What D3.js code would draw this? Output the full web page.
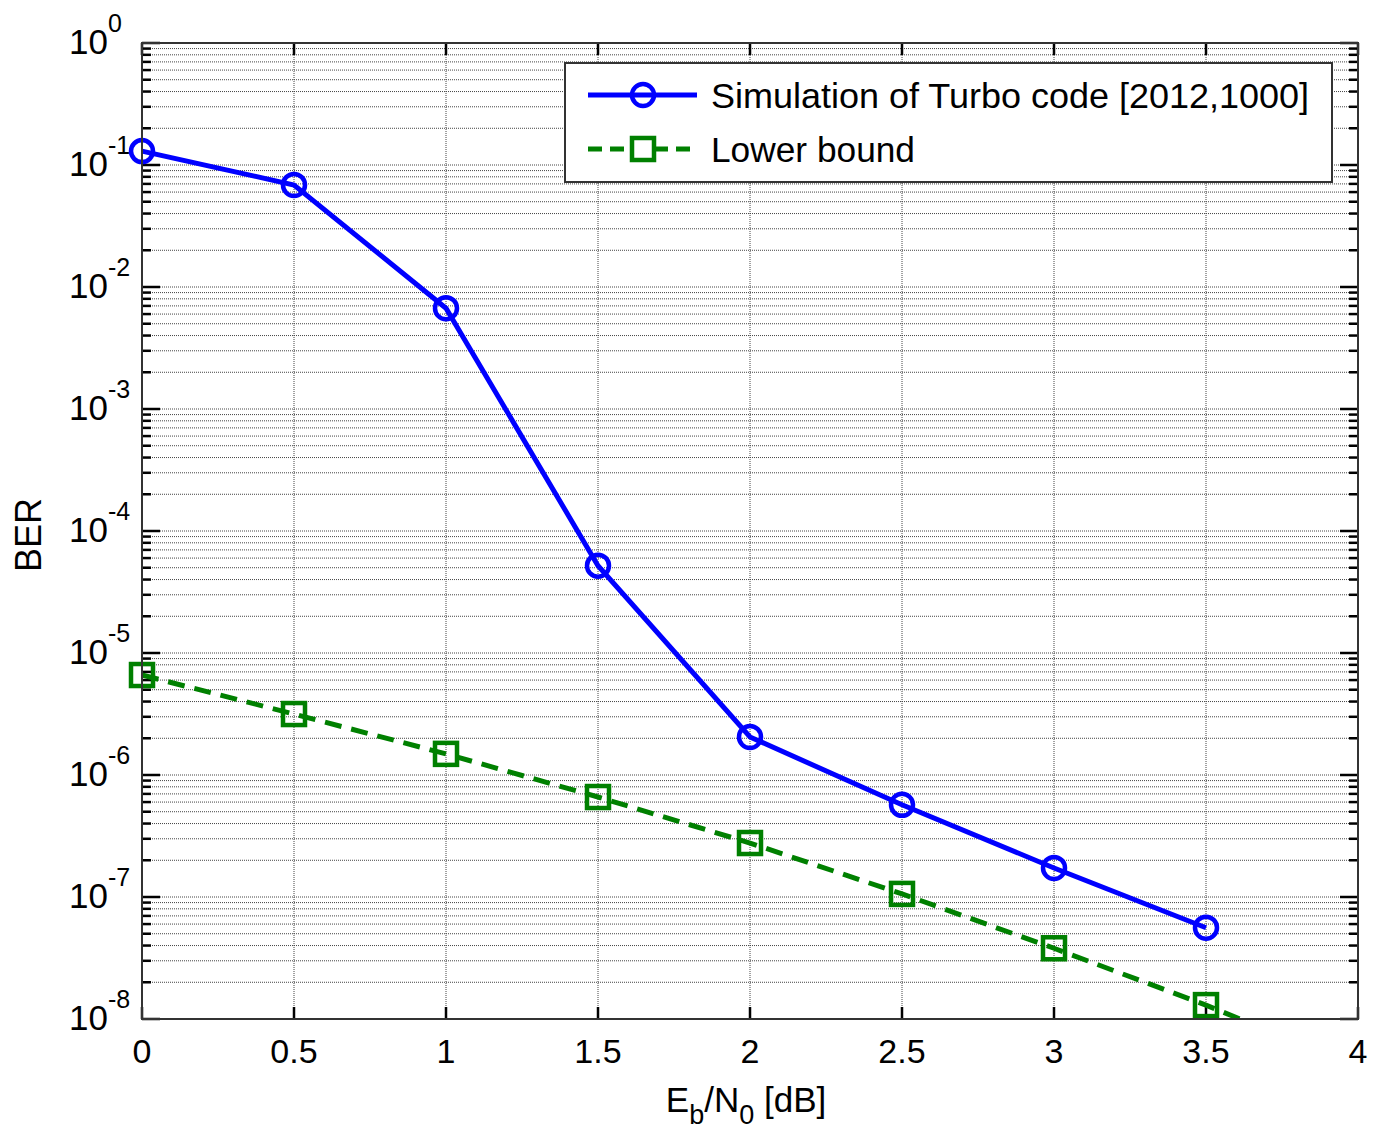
<!DOCTYPE html>
<html>
<head>
  <meta charset="utf-8">
  <script src="https://cdnjs.cloudflare.com/ajax/libs/d3/7.8.5/d3.min.js"></script>
  <style>
    body { margin: 0; background: #fff; }
    text { font-family: "Liberation Sans", Arial, sans-serif; fill: #000; }
    .grid line { stroke: #444; stroke-width: 1; stroke-dasharray: 1,1; }
  </style>
</head>
<body>
  <svg id="chart" width="1387" height="1135"></svg>
  <script>
  // values
  var ebn0 = [0, 0.5, 1, 1.5, 2, 2.5, 3, 3.5];
  var berTurbo = [0.13, 0.0686, 0.0067, 5.2e-5, 2.05e-6, 5.7e-7, 1.73e-7, 5.6e-8];
  var ebn0Bound = [0, 0.5, 1, 1.5, 2, 2.5, 3, 3.5, 4];
  var berBound = [6.6e-6, 3.16e-6, 1.49e-6, 6.6e-7, 2.77e-7, 1.06e-7, 3.8e-8, 1.3e-8, 4e-9];
  var xTicks = [0, 0.5, 1, 1.5, 2, 2.5, 3, 3.5, 4];
  var yExponents = [0, -1, -2, -3, -4, -5, -6, -7, -8];
  var legendLabels = ["Simulation of Turbo code [2012,1000]", "Lower bound"];

  var svg = d3.select('#chart');
  // plot box (note: "top" is reserved on window, so use pl/pr/pt/pb)
  var pl = 142, pr = 1358, pt = 43, pb = 1019;

  var x = d3.scaleLinear().domain([0, 4]).range([pl, pr]);
  var y = d3.scaleLog().domain([1e-8, 1]).range([pb, pt]);

  // minor + major log values
  var logVals = [];
  yExponents.forEach(function(e) {
    if (e === 0) return;
    for (var m = 1; m < 10; m++) logVals.push(m * Math.pow(10, e));
  });
  logVals.push(1);

  var grid = svg.append('g').attr('class', 'grid');
  grid.selectAll('.gy').data(logVals).enter().append('line')
    .attr('x1', pl).attr('x2', pr)
    .attr('y1', function(d) { return y(d); }).attr('y2', function(d) { return y(d); });
  grid.selectAll('.gx').data(xTicks).enter().append('line')
    .attr('y1', pt).attr('y2', pb)
    .attr('x1', function(d) { return x(d); }).attr('x2', function(d) { return x(d); });

  // ticks inside, all four sides
  var ticks = svg.append('g').attr('stroke', '#000').attr('stroke-width', 2.5);
  logVals.forEach(function(d) {
    var major = Math.abs(Math.log10(d) - Math.round(Math.log10(d))) < 1e-9;
    var len = major ? 18 : 9;
    ticks.append('line').attr('x1', pl).attr('x2', pl + len).attr('y1', y(d)).attr('y2', y(d));
    ticks.append('line').attr('x1', pr).attr('x2', pr - len).attr('y1', y(d)).attr('y2', y(d));
  });
  xTicks.forEach(function(d) {
    ticks.append('line').attr('x1', x(d)).attr('x2', x(d)).attr('y1', pb).attr('y2', pb - 12);
    ticks.append('line').attr('x1', x(d)).attr('x2', x(d)).attr('y1', pt).attr('y2', pt + 12);
  });

  // clip data at the bottom axis
  svg.append('clipPath').attr('id', 'plotclip').append('rect')
    .attr('x', pl - 20).attr('y', pt - 20).attr('width', pr - pl + 40).attr('height', pb - pt + 21);

  var plot = svg.append('g').attr('clip-path', 'url(#plotclip)');
  var line = d3.line().x(function(d) { return x(d[0]); }).y(function(d) { return y(d[1]); });

  var boundPts = ebn0Bound.map(function(v, i) { return [v, berBound[i]]; });
  var turboPts = ebn0.map(function(v, i) { return [v, berTurbo[i]]; });

  plot.append('path').datum(boundPts).attr('d', line)
    .attr('fill', 'none').attr('stroke', '#008000').attr('stroke-width', 5)
    .attr('stroke-dasharray', '17,10');
  plot.selectAll('.sq').data(boundPts.filter(function(d) { return y(d[1]) <= pb; })).enter().append('rect')
    .attr('x', function(d) { return x(d[0]) - 11; }).attr('y', function(d) { return y(d[1]) - 11; })
    .attr('width', 22).attr('height', 22)
    .attr('fill', 'none').attr('stroke', '#008000').attr('stroke-width', 4.5);

  plot.append('path').datum(turboPts).attr('d', line)
    .attr('fill', 'none').attr('stroke', '#0000ff').attr('stroke-width', 5);
  plot.selectAll('.ci').data(turboPts).enter().append('circle')
    .attr('cx', function(d) { return x(d[0]); }).attr('cy', function(d) { return y(d[1]); })
    .attr('r', 11).attr('fill', 'none').attr('stroke', '#0000ff').attr('stroke-width', 4.5);

  // axis box
  svg.append('rect').attr('x', pl).attr('y', pt).attr('width', pr - pl).attr('height', pb - pt)
    .attr('fill', 'none').attr('stroke', '#333').attr('stroke-width', 2);

  // x tick labels
  svg.selectAll('.xl').data(xTicks).enter().append('text')
    .attr('x', function(d) { return x(d); }).attr('y', 1063)
    .attr('text-anchor', 'middle').attr('font-size', 34)
    .text(function(d) { return d; });

  // y tick labels
  yExponents.forEach(function(e) {
    var t = svg.append('text').attr('x', 69).attr('y', y(Math.pow(10, e)) + 11).attr('font-size', 35);
    t.append('tspan').text('10');
    t.append('tspan').attr('dy', -22).attr('font-size', 25).text(e);
  });

  // axis titles
  var xl = svg.append('text').attr('x', 746).attr('y', 1112).attr('text-anchor', 'middle').attr('font-size', 35);
  xl.append('tspan').text('E');
  xl.append('tspan').attr('dy', 12).attr('font-size', 27).text('b');
  xl.append('tspan').attr('dy', -12).text('/N');
  xl.append('tspan').attr('dy', 12).attr('font-size', 27).text('0');
  xl.append('tspan').attr('dy', -12).text(' [dB]');

  svg.append('text').attr('transform', 'translate(41,535) rotate(-90)')
    .attr('text-anchor', 'middle').attr('font-size', 36).text('BER');

  // legend
  var lg = svg.append('g');
  lg.append('rect').attr('x', 565).attr('y', 63).attr('width', 767).attr('height', 119)
    .attr('fill', '#fff').attr('stroke', '#333').attr('stroke-width', 2);
  lg.append('line').attr('x1', 588).attr('x2', 697).attr('y1', 95).attr('y2', 95)
    .attr('stroke', '#0000ff').attr('stroke-width', 5);
  lg.append('circle').attr('cx', 643).attr('cy', 95).attr('r', 11)
    .attr('fill', 'none').attr('stroke', '#0000ff').attr('stroke-width', 4.5);
  lg.append('line').attr('x1', 588).attr('x2', 697).attr('y1', 149).attr('y2', 149)
    .attr('stroke', '#008000').attr('stroke-width', 5).attr('stroke-dasharray', '14,8');
  lg.append('rect').attr('x', 632).attr('y', 138).attr('width', 22).attr('height', 22)
    .attr('fill', '#fff').attr('stroke', '#008000').attr('stroke-width', 4.5);
  lg.append('text').attr('x', 711).attr('y', 108).attr('font-size', 35)
    .attr('textLength', 598).attr('lengthAdjust', 'spacingAndGlyphs').text(legendLabels[0]);
  lg.append('text').attr('x', 711).attr('y', 162).attr('font-size', 35)
    .attr('textLength', 204).attr('lengthAdjust', 'spacingAndGlyphs').text(legendLabels[1]);
  </script>
</body>
</html>
